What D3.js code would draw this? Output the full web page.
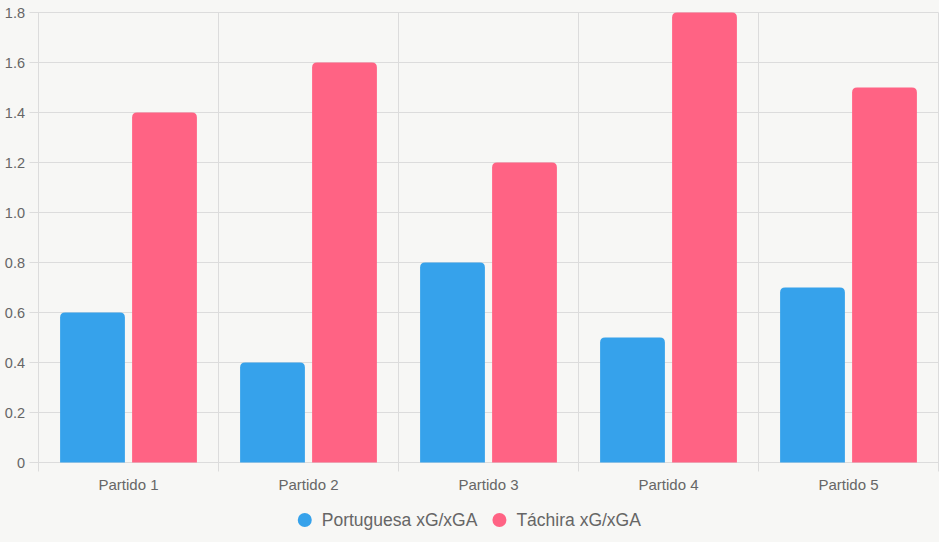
<!DOCTYPE html>
<html>
<head>
    <meta charset="utf-8">
    <script src="https://d3js.org/d3.v7.min.js"></script>
    <style>
        body { margin: 0; background-color: #f7f7f5; }
        text { font-family: 'Liberation Sans', Arial, sans-serif; }
    </style>
    <title>xG / xGA</title>
</head>
<body>
    <svg id="chart" width="939" height="542"></svg>
    <script>
        // data
        const matches = ["Partido 1", "Partido 2", "Partido 3", "Partido 4", "Partido 5"];
        const seriesNames = ["Portuguesa xG/xGA", "Táchira xG/xGA"];
        const portuguesa = [0.6, 0.4, 0.8, 0.5, 0.7];
        const tachira = [1.4, 1.6, 1.2, 1.8, 1.5];
        const yTicks = [0, 0.2, 0.4, 0.6, 0.8, 1.0, 1.2, 1.4, 1.6, 1.8];
        const colors = ["#36a2eb", "#ff6384"];

        const series = [portuguesa, tachira];

        var svg = d3.select("#chart");
        var plotLeft = 38.5, plotRight = 938.5, plotTop = 12.5, plotBottom = 462.5;
        var gridColor = "#dcdcdc";
        var textColor = "#666";

        var x0 = d3.scaleBand().domain(matches).range([plotLeft, plotRight]).padding(0);
        var catW = x0.bandwidth() * 0.8;
        var x1 = d3.scaleBand().domain(seriesNames).range([0, catW]).padding(0);
        var y = d3.scaleLinear().domain([0, 1.8]).range([plotBottom, plotTop]);

        // horizontal gridlines + y ticks
        svg.append("g").selectAll("line")
            .data(yTicks)
            .enter().append("line")
            .attr("x1", plotLeft - 9).attr("x2", plotRight)
            .attr("y1", d => Math.round(y(d) - 0.5) + 0.5)
            .attr("y2", d => Math.round(y(d) - 0.5) + 0.5)
            .style("stroke", gridColor).style("stroke-width", 1);

        svg.append("g").selectAll("text")
            .data(yTicks)
            .enter().append("text")
            .attr("x", 25)
            .attr("y", d => y(d))
            .attr("dy", "0.35em")
            .attr("text-anchor", "end")
            .style("font-size", "14.5px")
            .style("fill", textColor)
            .text(d => d === 0 ? "0" : d3.format(".1f")(d));

        // vertical gridlines at category edges
        var edges = matches.map(m => x0(m)).concat([plotRight]);
        svg.append("g").selectAll("line")
            .data(edges)
            .enter().append("line")
            .attr("x1", d => Math.round(d - 0.5) + 0.5)
            .attr("x2", d => Math.round(d - 0.5) + 0.5)
            .attr("y1", plotTop).attr("y2", plotBottom + 9)
            .style("stroke", gridColor).style("stroke-width", 1);

        // bars with rounded top
        function barPath(x, yTop, w, h, r) {
            r = Math.min(r, w / 2, h);
            return "M" + x + "," + (yTop + h) +
                "V" + (yTop + r) +
                "Q" + x + "," + yTop + " " + (x + r) + "," + yTop +
                "H" + (x + w - r) +
                "Q" + (x + w) + "," + yTop + " " + (x + w) + "," + (yTop + r) +
                "V" + (yTop + h) + "Z";
        }

        var barW = x1.bandwidth() * 0.9;
        var barOff = (x1.bandwidth() - barW) / 2;
        var catOff = (x0.bandwidth() - catW) / 2;

        series.forEach(function (vals, s) {
            svg.append("g").selectAll("path")
                .data(vals)
                .enter().append("path")
                .attr("d", function (d, i) {
                    var bx = x0(matches[i]) + catOff + x1(seriesNames[s]) + barOff;
                    return barPath(bx, y(d), barW, y(0) - y(d), 5);
                })
                .style("fill", colors[s]);
        });

        // x labels
        svg.append("g").selectAll("text")
            .data(matches)
            .enter().append("text")
            .attr("x", d => x0(d) + x0.bandwidth() / 2)
            .attr("y", 490)
            .attr("text-anchor", "middle")
            .style("font-size", "15px")
            .style("fill", textColor)
            .text(d => d);

        // legend
        var legend = svg.append("g");
        var lx = 299;
        seriesNames.forEach(function (name, s) {
            var item = legend.append("g").attr("transform", "translate(" + lx + ",520)");
            item.append("circle")
                .attr("cx", 7).attr("cy", 0).attr("r", 7)
                .style("fill", colors[s]);
            var t = item.append("text")
                .attr("x", 24).attr("y", 0).attr("dy", "0.35em")
                .style("font-size", "17.5px")
                .style("fill", textColor)
                .text(name);
            lx += 24 + t.node().getComputedTextLength() + 15;
        });
        var lb = legend.node().getBBox();
        legend.attr("transform", "translate(" + (469.5 - (lb.x + lb.width / 2)) + ",0)");
    </script>
</body>
</html>
